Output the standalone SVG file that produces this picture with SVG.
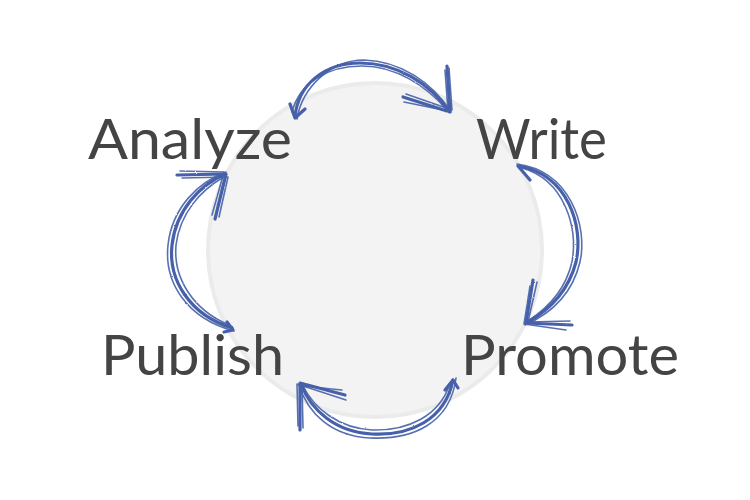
<svg xmlns="http://www.w3.org/2000/svg" width="750" height="500" viewBox="0 0 750 500">
  <defs>
    <filter id="rough" x="-10%" y="-10%" width="120%" height="120%">
      <feTurbulence type="fractalNoise" baseFrequency="0.9" numOctaves="2" seed="3" result="n"/>
      <feDisplacementMap in="SourceGraphic" in2="n" scale="1.6" xChannelSelector="R" yChannelSelector="G"/>
    </filter>
  </defs>
  <style>
    .lbl { font-family: Lato, "Liberation Sans", sans-serif; font-weight: 400; font-size: 56px; fill: #444444; }
    .s1 { fill: none; stroke: #4661a9; stroke-width: 3.2; stroke-linecap: round; stroke-linejoin: round; }
    .s2 { fill: none; stroke: #4661a9; stroke-width: 1.6; stroke-linecap: round; stroke-linejoin: round; opacity: 0.9; }
  </style>
  <rect width="750" height="500" fill="#ffffff"/>
  <g id="hub">
    <circle cx="375" cy="250" r="167" fill="#f3f3f3" stroke="#ebebeb" stroke-width="4"/>
  </g>
  <g id="analyze"><text class="lbl" x="88" y="159" textLength="204" lengthAdjust="spacingAndGlyphs">Analyze</text></g>
  <g id="write"><text class="lbl" x="476" y="159" textLength="131" lengthAdjust="spacingAndGlyphs">Write</text></g>
  <g id="promote"><text class="lbl" x="461" y="375" textLength="218" lengthAdjust="spacingAndGlyphs">Promote</text></g>
  <g id="publish"><text class="lbl" x="101" y="375" textLength="183" lengthAdjust="spacingAndGlyphs">Publish</text></g>
  <g id="connectors" filter="url(#rough)">
    <!-- Analyze -> Write (top) -->
    <path class="s1" d="M295 117 C298 84 325 63 360 63 C398 63 430 84 449 111"/>
    <path class="s2" d="M292 112 C300 82 328 66 362 66 C396 66 426 86 446 109"/>
    <path class="s2" d="M297 119 C302 88 330 60 364 60 C400 61 432 82 451 112"/>
    <path class="s1" d="M290 104 L295 118 L305 109"/>
    <path class="s1" d="M447 66 L450 112 L403 97"/>
    <path class="s2" d="M445 70 L448 111 L404 102"/>
    <path class="s2" d="M449 68 L452 110 L406 94"/>
    <!-- Write -> Promote (right) -->
    <path class="s1" d="M519 166 C568 175 584 226 576 262 C568 293 548 311 526 323"/>
    <path class="s2" d="M522 168 C565 180 578 228 572 262 C565 292 545 310 528 321"/>
    <path class="s2" d="M517 164 C570 171 588 226 580 262 C572 295 550 314 525 325"/>
    <path class="s1" d="M518 166 L530 180"/>
    <path class="s1" d="M533 280 L526 323 L572 325"/>
    <path class="s2" d="M537 282 L528 322 L570 321"/>
    <path class="s2" d="M530 286 L524 324 L566 330"/>
    <!-- Promote -> Publish (bottom) -->
    <path class="s1" d="M453 380 C445 420 410 436 372 434 C335 432 311 410 301 384"/>
    <path class="s2" d="M450 383 C440 416 408 431 372 430 C338 428 314 408 303 386"/>
    <path class="s2" d="M456 378 C450 424 412 440 370 438 C332 436 308 414 299 385"/>
    <path class="s1" d="M445 390 L453 380 L458 388"/>
    <path class="s1" d="M300 430 L300 383 L345 395"/>
    <path class="s2" d="M298 426 L297 384 L346 400"/>
    <path class="s2" d="M303 428 L302 386 L342 390"/>
    <!-- Publish -> Analyze (left) -->
    <path class="s1" d="M232 328 C190 315 168 280 172 245 C176 210 200 185 225 174"/>
    <path class="s2" d="M229 325 C193 310 173 278 176 245 C180 212 202 190 222 178"/>
    <path class="s2" d="M234 331 C186 318 164 282 168 245 C172 208 198 182 226 172"/>
    <path class="s1" d="M227 322 L233 330 L224 332"/>
    <path class="s1" d="M177 175 L226 174 L215 219"/>
    <path class="s2" d="M180 171 L224 172 L212 215"/>
    <path class="s2" d="M182 178 L228 177 L219 217"/>
  </g>
</svg>
